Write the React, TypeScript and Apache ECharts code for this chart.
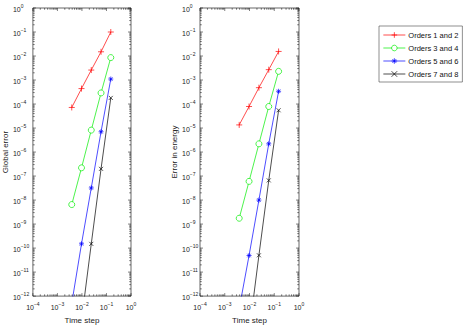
import React, { useEffect, useRef } from "react";
import * as echarts from "echarts";

const timeStep = [0.00384, 0.0096, 0.024, 0.06, 0.15];
const seriesNames = ["Orders 1 and 2", "Orders 3 and 4", "Orders 5 and 6", "Orders 7 and 8"];

const globalErr12 = [7.2e-5, 4.4e-4, 2.6e-3, 1.5e-2, 0.1];
const globalErr34 = [6.5e-9, 2.2e-7, 8.2e-6, 2.9e-4, 8.6e-3];
const globalErr56 = [5e-13, 1.5e-10, 3.2e-8, 7e-6, 1.1e-3];
const globalErr78 = [null, 1e-13, 1.5e-10, 2.0e-7, 1.8e-4];

const energyErr12 = [1.35e-5, 7.9e-5, 4.8e-4, 2.7e-3, 1.55e-2];
const energyErr34 = [1.75e-9, 6e-8, 2.2e-6, 7.9e-5, 2.3e-3];
const energyErr56 = [3e-13, 4.9e-11, 1.0e-8, 2.2e-6, 3.4e-4];
const energyErr78 = [null, 3e-14, 5e-11, 6.6e-8, 5.5e-5];

const X_MIN = 1e-4, X_MAX = 1;
const Y_MIN = 1e-12, Y_MAX = 1;
const xDecades = [-4, -3, -2, -1, 0];
const yDecades = [-12, -11, -10, -9, -8, -7, -6, -5, -4, -3, -2, -1, 0];

const colors = ["#ff0000", "#00ee00", "#0000ff", "#000000"];
const symbols = [
  "path://M5,0L5,10M0,5L10,5",
  "circle",
  "path://M5,0L5,10M0,5L10,5M1.5,1.5L8.5,8.5M8.5,1.5L1.5,8.5",
  "path://M0,0L10,10M10,0L0,10",
];
const symbolSizes = [6, 6, 5, 4];

const FONT = "Liberation Sans, Arial, Helvetica, sans-serif";

function tickList(decades: number[]) {
  const out: number[][] = [];
  decades.forEach((d, i) => {
    out.push([Math.pow(10, d), 1]);
    if (i < decades.length - 1) {
      for (let m = 2; m <= 9; m++) out.push([m * Math.pow(10, d), 0]);
    }
  });
  return out;
}

const labelFmt = (v: number) => {
  const e = Math.round(Math.log10(v));
  return `{b|10}{s|${e < 0 ? "\u2212" + Math.abs(e) : e}}`;
};
const rich = {
  b: { fontSize: 7, lineHeight: 10, verticalAlign: "bottom", fontFamily: FONT, color: "#222" },
  s: { fontSize: 5, lineHeight: 10, verticalAlign: "top", fontFamily: FONT, color: "#222" },
};

export default function App() {
  const ref = useRef<HTMLDivElement>(null);
  useEffect(() => {
    if (!ref.current) return;
    const chart = echarts.init(ref.current, undefined, { renderer: "svg" });
    const grids = [
      { left: 32, top: 8, width: 99, height: 294.5 },
      { left: 200, top: 8, width: 99, height: 294.5 },
    ];
    const yNames = ["Global error", "Error in energy"];
    const yMargins = [20, 18];
    const yNameGaps = [21, 19];
    const dataSets = [
      [globalErr12, globalErr34, globalErr56, globalErr78],
      [energyErr12, energyErr34, energyErr56, energyErr78],
    ];
    const xAxis: any[] = [];
    const yAxis: any[] = [];
    const series: any[] = [];
    grids.forEach((g, gi) => {
      xAxis.push({
        type: "log",
        logBase: 10,
        gridIndex: gi,
        min: X_MIN,
        max: X_MAX,
        interval: 1,
        splitNumber: 4,
        name: "Time step",
        nameLocation: "middle",
        nameGap: 13,
        nameTextStyle: { fontSize: 8, fontFamily: FONT, color: "#222" },
        axisLine: { show: false },
        axisTick: { show: false },
        splitLine: { show: false },
        axisLabel: { margin: 5, formatter: labelFmt, rich },
      });
      yAxis.push({
        type: "log",
        logBase: 10,
        gridIndex: gi,
        min: Y_MIN,
        max: Y_MAX,
        interval: 1,
        splitNumber: 12,
        name: yNames[gi],
        nameLocation: "middle",
        nameGap: yNameGaps[gi],
        nameTextStyle: { fontSize: 8, fontFamily: FONT, color: "#222" },
        axisLine: { show: false },
        axisTick: { show: false },
        splitLine: { show: false },
        axisLabel: { margin: yMargins[gi], align: "left", formatter: labelFmt, rich },
      });
      dataSets[gi].forEach((arr, si) => {
        series.push({
          type: "line",
          name: seriesNames[si],
          xAxisIndex: gi,
          yAxisIndex: gi,
          data: timeStep
            .map((t, k) => [t, arr[k]])
            .filter((p) => p[1] !== null),
          clip: true,
          symbol: symbols[si],
          symbolSize: symbolSizes[si],
          showSymbol: true,
          lineStyle: { color: colors[si], width: 0.7 },
          itemStyle: {
            color: si === 1 ? "#ffffff" : colors[si],
            borderColor: colors[si],
            borderWidth: 0.7,
          },
          emphasis: { disabled: true },
          z: 3,
        });
      });
      // x ticks (bottom & top)
      series.push({
        type: "custom",
        xAxisIndex: gi,
        yAxisIndex: gi,
        silent: true,
        clip: false,
        data: tickList(xDecades).map((t) => [t[0], 1e-6, t[1]]),
        renderItem: (_p: any, api: any) => {
          const v = api.value(0);
          const major = api.value(2);
          const b = api.coord([v, Y_MIN]);
          const t = api.coord([v, Y_MAX]);
          const len = major ? 3 : 1.8;
          const st = { stroke: "#000", lineWidth: 0.5 };
          return {
            type: "group",
            children: [
              { type: "line", shape: { x1: b[0], y1: b[1], x2: b[0], y2: b[1] - len }, style: st },
              { type: "line", shape: { x1: t[0], y1: t[1], x2: t[0], y2: t[1] + len }, style: st },
            ],
          };
        },
        z: 4,
      });
      // y ticks (left & right)
      series.push({
        type: "custom",
        xAxisIndex: gi,
        yAxisIndex: gi,
        silent: true,
        clip: false,
        data: tickList(yDecades).map((t) => [1e-2, t[0], t[1]]),
        renderItem: (_p: any, api: any) => {
          const v = api.value(1);
          const major = api.value(2);
          const l = api.coord([X_MIN, v]);
          const r = api.coord([X_MAX, v]);
          const len = major ? 3 : 1.8;
          const st = { stroke: "#000", lineWidth: 0.5 };
          return {
            type: "group",
            children: [
              { type: "line", shape: { x1: l[0], y1: l[1], x2: l[0] + len, y2: l[1] }, style: st },
              { type: "line", shape: { x1: r[0], y1: r[1], x2: r[0] - len, y2: r[1] }, style: st },
            ],
          };
        },
        z: 4,
      });
    });

    chart.setOption({
      animation: false,
      backgroundColor: "#ffffff",
      grid: grids.map((g) => ({ ...g, show: true, borderColor: "#000", borderWidth: 0.6, backgroundColor: "transparent" })),
      xAxis,
      yAxis,
      legend: {
        data: seriesNames,
        orient: "vertical",
        left: 379,
        top: 26,
        padding: [5, 4, 4, 4],
        itemGap: 5,
        itemWidth: 22,
        itemHeight: 7,
        borderColor: "#444",
        borderWidth: 0.6,
        backgroundColor: "#fff",
        lineStyle: { width: 0.7 },
        itemStyle: { borderWidth: 0.7 },
        textStyle: { fontSize: 7.5, fontFamily: FONT, color: "#111", padding: [0, 0, 0, -2] },
      },
      series,
    });
    return () => chart.dispose();
  }, []);
  return (
    <div
      ref={ref}
      style={{ position: "fixed", left: 0, top: 0, width: 464, height: 329, background: "#fff" }}
    />
  );
}
